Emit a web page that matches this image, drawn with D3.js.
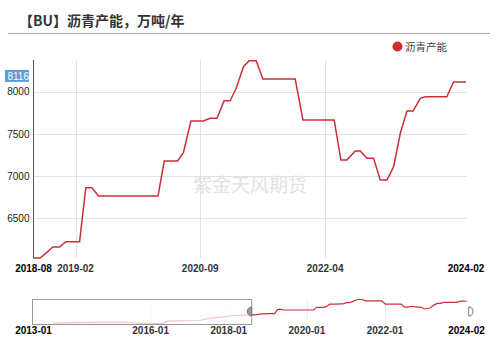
<!DOCTYPE html>
<html>
<head>
<meta charset="utf-8">
<script src="https://cdn.jsdelivr.net/npm/d3@7"></script>
<style>
body { margin: 0; background: #fff; }
text { font-family: "Liberation Sans", Arial, "Noto Sans CJK SC", sans-serif; }
.cjk { font-family: "Noto Sans CJK SC", sans-serif; }
</style>
</head>
<body>
<div id="chart"></div>
<script>
// 沥青产能 series (main window)
var dates = ["2018-08-03","2018-09-03","2018-10-04","2018-11-01","2018-12-02","2018-12-31","2019-03-05","2019-04-03","2019-05-01","2019-06-01",
	"2020-03-03","2020-04-01","2020-06-02","2020-06-29","2020-08-03","2020-09-30","2020-10-31","2020-12-02","2021-01-04","2021-02-01",
	"2021-03-01","2021-04-04","2021-04-30","2021-06-02","2021-07-03","2021-11-30","2022-01-05","2022-05-30","2022-06-30","2022-07-28",
	"2022-09-05","2022-09-28","2022-10-29","2022-11-29","2022-12-30","2023-01-30","2023-03-02","2023-04-02","2023-05-03","2023-05-31",
	"2023-07-04","2023-07-27","2023-11-04","2023-12-05","2024-02-01"];
var values = [6030,6030,6097,6160,6160,6223,6223,6863,6863,6764,
	6764,7179,7179,7277,7653,7653,7685,7685,7893,7893,
	8040,8296,8367,8367,8150,8150,7665,7665,7190,7190,
	7297,7297,7211,7211,6954,6954,7112,7507,7771,7771,
	7921,7940,7940,8116,8116];

// older history, only visible in the navigator
var histDates = ["2013-07-01","2014-06-01","2015-05-01","2015-10-01","2016-05-01","2016-06-01","2017-04-01","2017-07-01","2018-03-01"];
var histValues = [4750,4860,4930,4700,4720,5050,5160,5470,5920];

var yTicks = [6500, 7000, 7500, 8000];
var xTicks = ["2019-02-14","2020-09-15","2022-04-18"];
var navRange = ["2013-01-01","2024-02-01"];
var navTicks = ["2016-01-01","2018-01-01","2020-01-01","2022-01-01"];

var title = "【BU】沥青产能，万吨/年";
var seriesName = "沥青产能";
var watermark = "紫金天风期货";

var parse = d3.timeParse("%Y-%m-%d");
var fmt = d3.timeFormat("%Y-%m");
var red = "#cb2f36";

var data = dates.map(function(d, i){ return {date: parse(d), value: values[i]}; });
var navData = histDates.map(function(d, i){ return {date: parse(d), value: histValues[i]}; }).concat(data);

var svg = d3.select("#chart").append("svg")
	.attr("width", 500)
	.attr("height", 342);

// title + rule
svg.append("text").attr("class", "cjk")
	.attr("x", 19).attr("y", 26)
	.attr("font-size", 14).attr("font-weight", "bold").attr("fill", "#333")
	.text(title);
svg.append("line")
	.attr("x1", 8).attr("x2", 490).attr("y1", 33.5).attr("y2", 33.5)
	.attr("stroke", "#aaa");

// legend
svg.append("circle").attr("cx", 397.5).attr("cy", 46.5).attr("r", 5).attr("fill", red);
svg.append("text").attr("class", "cjk")
	.attr("x", 405).attr("y", 50.5)
	.attr("font-size", 10.5).attr("fill", "#444")
	.text(seriesName);

// main scales
var x = d3.scaleTime()
	.domain(d3.extent(data, function(d){ return d.date; }))
	.range([33.5, 466]);
var y = d3.scaleLinear()
	.domain(d3.extent(values))
	.range([258, 60.7]);

// gridlines
svg.append("g").selectAll("line").data(yTicks).enter()
	.append("line")
	.attr("x1", 33.5).attr("x2", 466.5)
	.attr("y1", function(d){ return Math.round(y(d)) + 0.5; })
	.attr("y2", function(d){ return Math.round(y(d)) + 0.5; })
	.attr("stroke", "#e3e3e3");
svg.append("g").selectAll("line").data(xTicks).enter()
	.append("line")
	.attr("x1", function(d){ return Math.round(x(parse(d))) + 0.5; })
	.attr("x2", function(d){ return Math.round(x(parse(d))) + 0.5; })
	.attr("y1", 60).attr("y2", 258)
	.attr("stroke", "#e3e3e3");

// watermark
svg.append("text").attr("class", "cjk")
	.attr("x", 250).attr("y", 192)
	.attr("text-anchor", "middle")
	.attr("font-size", 19).attr("fill", "#e2e2e2")
	.text(watermark);

// y axis
var yAxis = d3.axisLeft(y).tickValues(yTicks).tickFormat(d3.format("d")).tickSize(0).tickPadding(4);
var yg = svg.append("g").attr("transform", "translate(33.5,0)").call(yAxis);
yg.select(".domain").remove();
yg.selectAll("text").attr("font-size", 10).attr("fill", "#222")
	.style("font-family", "'Liberation Sans', Arial, sans-serif");
svg.append("line")
	.attr("x1", 33.5).attr("x2", 33.5).attr("y1", 60).attr("y2", 258)
	.attr("stroke", "#555");

// last value tag
var last = data[data.length - 1];
var tag = svg.append("g");
tag.append("rect")
	.attr("x", 5).attr("y", y(last.value) - 12)
	.attr("width", 24).attr("height", 12)
	.attr("fill", "#5d9bd6");
tag.append("text")
	.attr("x", 29).attr("y", y(last.value) - 2)
	.attr("text-anchor", "end")
	.attr("font-size", 10).attr("fill", "#fff")
	.text(last.value);

// x axis labels
var xLabels = [{d: x.domain()[0], bold: true}]
	.concat(xTicks.map(function(t){ return {d: parse(t), bold: false}; }))
	.concat([{d: x.domain()[1], bold: true}]);
svg.append("g").selectAll("text").data(xLabels).enter()
	.append("text")
	.attr("x", function(d){ return x(d.d); })
	.attr("y", 272)
	.attr("text-anchor", "middle")
	.attr("font-size", 10)
	.attr("font-weight", "bold")
	.attr("fill", function(d){ return d.bold ? "#000" : "#333"; })
	.text(function(d){ return fmt(d.d); });

// main line
var line = d3.line()
	.x(function(d){ return x(d.date); })
	.y(function(d){ return y(d.value); });
svg.append("path").datum(data)
	.attr("d", line)
	.attr("fill", "none")
	.attr("stroke", red)
	.attr("stroke-width", 1.5);

// navigator
var nx = d3.scaleTime()
	.domain(navRange.map(parse))
	.range([33.5, 466.5]);
var ny = d3.scaleLinear()
	.domain(d3.extent(navData, function(d){ return d.value; }))
	.range([323.5, 299.5]);

svg.append("g").selectAll("line").data(navTicks).enter()
	.append("line")
	.attr("x1", function(d){ return Math.round(nx(parse(d))) + 0.5; })
	.attr("x2", function(d){ return Math.round(nx(parse(d))) + 0.5; })
	.attr("y1", 299).attr("y2", 324)
	.attr("stroke", "#eee");

var nline = d3.line()
	.x(function(d){ return nx(d.date); })
	.y(function(d){ return ny(d.value); });
svg.append("path").datum(navData)
	.attr("d", nline)
	.attr("fill", "none")
	.attr("stroke", red)
	.attr("stroke-width", 1.2);

// unselected part of the navigator
var selX = nx(data[0].date);
svg.append("rect")
	.attr("x", 32.5).attr("y", 299.5)
	.attr("width", selX - 32.5).attr("height", 25)
	.attr("fill", "#fff").attr("fill-opacity", 0.72)
	.attr("stroke", "#999");

// handles
svg.append("path")
	.attr("d", d3.arc()({innerRadius: 0, outerRadius: 4.5, startAngle: Math.PI, endAngle: 2 * Math.PI}))
	.attr("transform", "translate(" + selX + ",311.5)")
	.attr("fill", "#999").attr("stroke", "#777");
var endX = nx(data[data.length - 1].date) + 2;
svg.append("path")
	.attr("d", "M0,-4.5 L0,4.5 M0,-4.5 A4.5,4.5 0 0 1 0,4.5")
	.attr("transform", "translate(" + endX + ",311.5)")
	.attr("fill", "#fff").attr("stroke", "#999").attr("stroke-width", 1.3);

// navigator labels
var navLabels = [{d: nx.domain()[0], bold: true}]
	.concat(navTicks.map(function(t){ return {d: parse(t), bold: false}; }))
	.concat([{d: nx.domain()[1], bold: true}]);
svg.append("g").selectAll("text").data(navLabels).enter()
	.append("text")
	.attr("x", function(d){ return nx(d.d); })
	.attr("y", 334)
	.attr("text-anchor", "middle")
	.attr("font-size", 10)
	.attr("font-weight", "bold")
	.attr("fill", function(d){ return d.bold ? "#000" : "#333"; })
	.text(function(d){ return fmt(d.d); });
</script>
</body>
</html>
